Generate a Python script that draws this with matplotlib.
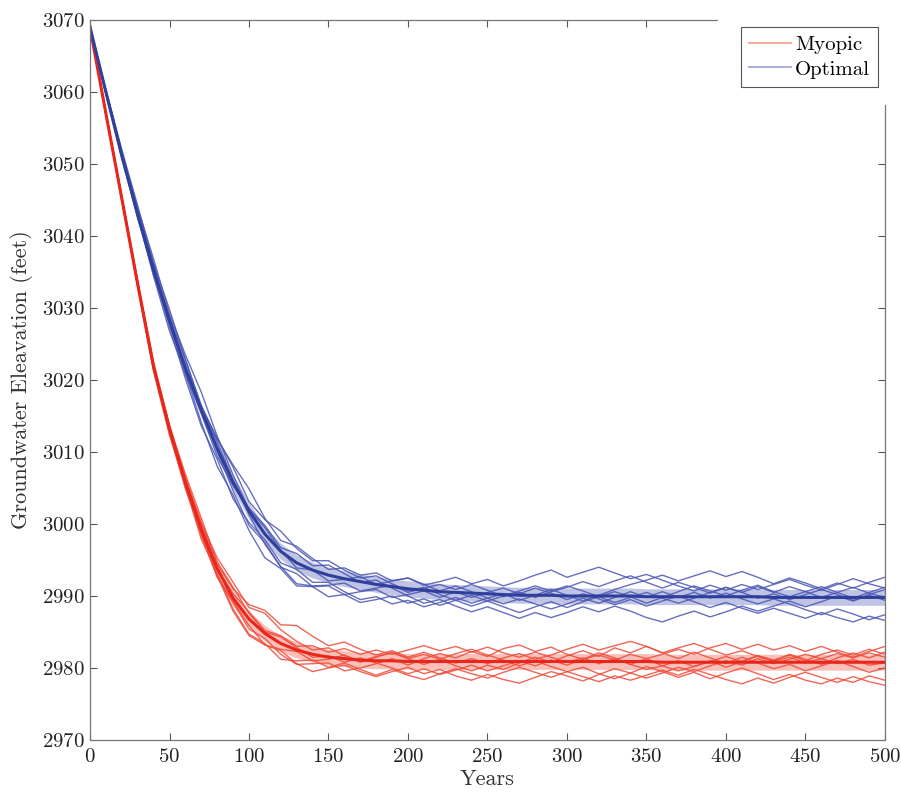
import numpy as np
import matplotlib
matplotlib.use("Agg")
import matplotlib.pyplot as plt
from matplotlib.lines import Line2D
from matplotlib.patches import Rectangle

plt.rcParams["font.family"] = ["cmr10", "DejaVu Serif"]
plt.rcParams["axes.formatter.use_mathtext"] = True

# --- data (feet), sampled every 10 years ---
years = np.arange(0, 501, 10)

myopic_mean = [3069.0, 3057.0, 3045.2, 3033.3, 3021.8, 3013.2, 3005.8, 2999.2, 2993.8, 2989.7,
               2986.8, 2984.8, 2983.4, 2982.5, 2981.9, 2981.5, 2981.3, 2981.1, 2981.0, 2981.0,
               2980.9, 2980.9, 2980.9, 2980.9, 2980.9, 2980.9, 2980.9, 2980.9, 2980.9, 2980.9,
               2980.9, 2980.9, 2980.9, 2980.9, 2980.9, 2980.9, 2980.8, 2980.8, 2980.8, 2980.8,
               2980.8, 2980.8, 2980.8, 2980.8, 2980.8, 2980.8, 2980.8, 2980.8, 2980.8, 2980.8, 2980.8]

optimal_mean = [3069.0, 3060.0, 3051.2, 3043.0, 3035.3, 3028.2, 3021.7, 3015.8, 3010.5, 3005.8,
                3001.8, 2998.6, 2996.2, 2994.6, 2993.6, 2992.9, 2992.4, 2992.0, 2991.6, 2991.3,
                2991.0, 2990.8, 2990.6, 2990.5, 2990.4, 2990.3, 2990.2, 2990.1, 2990.1, 2990.1,
                2990.0, 2990.0, 2990.0, 2990.0, 2990.0, 2989.9, 2989.9, 2989.9, 2989.9, 2989.9,
                2989.9, 2989.9, 2989.9, 2989.8, 2989.8, 2989.8, 2989.8, 2989.8, 2989.8, 2989.8, 2989.8]

band_half = [0.0, 0.3, 0.5, 0.6, 0.7, 0.8, 0.9, 1.0, 1.1, 1.1] + [1.1] * 41

# deviations of single runs from the mean
myopic_runs = [
    [0.0, 0.1, 0.2, 0.1, -0.2, -0.4, -0.3, -0.8, -1.2, -0.6,
     -1.4, -0.7, -1.5, -2.0, -1.3, -0.8, -1.7, -1.1, -0.4, 0.3,
     -0.5, 0.4, 1.1, 0.5, 1.4, 0.7, 1.8, 2.3, 1.4, 2.0,
     1.0, 0.3, 1.2, 0.5, -0.4, 0.4, -0.5, -1.2, -0.6, 0.2,
     -0.7, 0.1, 0.9, 0.2, 1.1, 0.4, -0.3, 0.6, 1.3, 0.6, 1.4],
    [0.0, -0.1, -0.2, 0.0, 0.3, 0.2, 0.6, 0.9, 1.5, 2.2,
     1.6, 2.8, 1.9, 1.2, 0.6, 1.3, 0.4, -0.3, 0.5, 1.2,
     0.4, -0.4, 0.3, -0.6, -1.3, -0.5, -1.1, -0.2, 0.6, -0.1,
     0.8, 1.5, 0.7, 1.9, 1.2, 2.1, 1.3, 0.5, 1.4, 0.6,
     -0.2, 0.7, -0.1, -0.9, -0.3, -1.2, -0.5, 0.2, -0.6, -1.4, -0.8],
    [0.0, 0.2, 0.1, -0.1, -0.3, -0.2, -0.7, -0.4, -1.0, -1.8,
     -2.3, -1.6, -1.0, -1.9, -2.4, -1.5, -0.9, -1.6, -2.2, -1.5,
     -0.8, -1.7, -1.1, -2.0, -2.6, -1.8, -2.5, -3.0, -2.2, -1.4,
     -2.0, -2.7, -1.8, -1.0, -1.6, -0.7, -1.3, -2.1, -1.4, -2.3,
     -1.5, -0.8, -1.6, -2.4, -1.7, -2.5, -3.0, -2.2, -2.8, -1.9, -2.5],
    [0.0, -0.1, 0.1, 0.3, 0.2, 0.5, 0.3, 1.0, 0.6, 1.3,
     2.0, 3.2, 2.6, 3.4, 2.5, 1.6, 2.3, 1.5, 0.8, 1.4,
     0.6, 1.3, 0.5, -0.2, 0.4, -0.3, 0.5, 1.1, 0.3, 0.9,
     1.7, 2.4, 1.6, 2.2, 2.8, 2.1, 1.3, 2.0, 2.6, 1.8,
     1.0, 1.6, 0.8, 0.1, 0.7, -0.1, 0.5, 1.2, 0.6, 1.3, 0.7],
    [0.0, 0.0, -0.2, -0.3, -0.1, -0.5, -0.9, -0.5, -1.1, -0.4,
     -0.9, -1.6, -0.8, -0.2, -0.9, -0.3, 0.5, -0.2, 0.6, 1.1,
     0.4, 1.0, 0.3, 1.1, 1.7, 0.9, 0.2, -0.6, 0.1, -0.7,
     -1.4, -0.8, -1.7, -2.4, -1.6, -2.3, -1.5, -0.7, -1.3, -0.5,
     0.2, -0.4, 0.5, -0.2, 0.4, 1.1, 0.5, -0.2, 0.4, -0.4, -0.1],
    [0.0, 0.1, 0.3, 0.4, 0.7, 0.4, 1.1, 1.6, 0.9, 1.5,
     0.8, 0.2, 0.9, 0.3, -0.4, 0.2, -0.5, 0.3, -0.3, -1.0,
     -1.7, -1.0, -1.8, -1.2, -0.5, -1.3, -0.6, 0.1, -0.6, 0.2,
     -0.5, 0.3, 0.9, 0.2, 1.0, 0.4, 1.1, 1.8, 1.1, 2.0,
     2.6, 1.8, 2.5, 1.7, 2.3, 1.5, 2.2, 1.4, 0.7, 1.5, 2.2],
    [0.0, -0.2, -0.1, -0.4, -0.6, -0.9, -0.6, -1.3, -0.7, -1.5,
     -2.1, -1.4, -2.2, -1.5, -0.8, -1.4, -0.6, -1.3, -2.0, -1.2,
     -1.9, -2.5, -1.7, -1.0, -1.7, -2.3, -1.5, -0.8, -1.5, -2.2,
     -1.4, -2.1, -2.8, -2.0, -2.6, -1.9, -1.1, -1.8, -1.0, -1.7,
     -2.4, -3.0, -2.2, -2.9, -2.1, -1.4, -2.1, -2.8, -2.0, -2.7, -3.2],
    [0.0, 0.1, 0.0, 0.2, 0.0, 0.3, 0.1, 0.5, 0.0, 0.6,
     1.0, 0.4, 1.1, 0.5, 1.2, 0.7, 1.4, 0.8, 1.5, 0.9,
     1.6, 2.2, 1.5, 2.1, 1.3, 2.0, 1.2, 0.6, 1.3, 0.6,
     -0.1, 0.5, -0.3, 0.4, -0.4, -1.1, -0.5, 0.2, -0.6, 0.1,
     0.8, 0.1, 0.9, 0.3, 1.0, 0.2, 1.1, 1.7, 1.0, 1.8, 1.1],
]

optimal_runs = [
    [0.0, 0.3, 0.8, 1.2, 0.9, 1.6, 1.1, 0.4, 1.3, 2.4,
     3.1, 2.2, 1.5, 2.3, 1.6, 0.8, 1.5, 0.9, 1.6, 0.8,
     1.5, 0.7, 1.4, 2.1, 1.3, 2.0, 1.2, 2.0, 2.8, 3.5,
     2.6, 3.3, 4.0, 3.2, 2.4, 3.1, 2.3, 1.5, 0.8, 1.6,
     0.9, 1.7, 1.0, 1.8, 2.5, 1.7, 1.0, 1.8, 2.6, 1.9, 1.3],
    [0.0, -0.2, -0.5, -0.3, -0.9, -1.4, -0.8, -1.7, -2.5, -1.8,
     -2.7, -3.3, -2.4, -3.2, -2.3, -1.5, -2.2, -1.4, -0.7, -1.5,
     -0.8, -0.1, -0.8, 0.1, -0.6, 0.2, 0.9, 0.2, 1.0, 0.3,
     -0.5, 0.3, -0.4, -1.2, -0.5, -1.3, -0.6, 0.1, -0.7, -1.5,
     -0.8, -1.6, -2.3, -1.5, -2.2, -2.9, -2.1, -2.8, -3.4, -2.6, -3.2],
    [0.0, 0.2, 0.5, 0.3, 0.8, 0.4, -0.3, 0.4, -0.4, -1.2,
     -2.0, -1.2, -2.1, -2.9, -2.2, -1.4, -0.6, -1.3, -0.5, 0.2,
     -0.5, 0.3, 1.0, 0.4, 1.2, 0.5, -0.3, 0.4, -0.3, 0.5,
     1.2, 2.0, 1.3, 2.1, 2.8, 2.0, 1.2, 2.0, 1.3, 0.5,
     1.3, 0.6, -0.2, 0.5, -0.3, 0.4, 1.1, 0.4, -0.4, 0.4, 1.1],
    [0.0, -0.1, 0.1, -0.3, -0.6, -0.2, -0.9, -0.4, -1.1, -0.5,
     0.4, 1.2, 0.5, 1.3, 0.6, 1.4, 0.7, -0.1, 0.6, -0.2,
     -1.0, -1.8, -1.1, -1.9, -2.6, -1.8, -2.5, -3.2, -2.4, -3.1,
     -2.3, -1.5, -2.2, -1.4, -2.1, -2.9, -3.5, -2.7, -2.0, -2.8,
     -2.1, -1.3, -2.0, -1.2, -0.5, -1.3, -0.6, 0.2, -0.5, 0.3, -0.4],
    [0.0, 0.1, 0.4, 0.9, 1.5, 1.0, 1.8, 2.5, 1.7, 1.0,
     0.2, 0.9, 0.1, -0.7, 0.0, -0.8, -0.1, 0.7, 0.0, 0.8,
     1.5, 0.8, 0.1, 0.9, 0.2, -0.6, 0.1, -0.7, 0.0, 0.8,
     0.1, -0.7, 0.1, 0.9, 1.6, 2.3, 3.0, 2.2, 2.9, 3.6,
     2.8, 3.5, 2.7, 1.9, 2.7, 2.0, 1.2, 2.0, 1.3, 2.1, 2.8],
    [0.0, -0.3, -0.1, -0.6, -0.2, -0.8, -1.5, -2.2, -1.5, -2.3,
     -1.6, -0.8, -1.6, -0.9, -1.7, -1.0, -1.8, -2.5, -1.7, -2.4,
     -1.6, -2.3, -1.5, -0.7, -1.4, -0.6, -1.3, -0.5, -1.2, -1.9,
     -1.1, -0.3, -1.0, -0.2, 0.6, -0.1, 0.7, -0.1, 0.6, -0.2,
     0.5, -0.3, -1.0, -0.2, -0.9, -1.7, -2.4, -1.6, -2.3, -3.1, -2.4],
    [0.0, 0.2, 0.0, 0.4, 0.1, 0.6, 1.2, 0.6, 1.4, 2.1,
     1.3, 2.0, 2.8, 2.0, 1.3, 2.0, 1.2, 0.5, 1.2, 0.4,
     -0.3, 0.4, -0.4, -1.1, -0.3, -1.0, -0.2, 0.6, 1.3, 0.6,
     1.4, 0.7, -0.1, 0.6, -0.1, -0.9, -0.1, 0.7, 1.5, 0.8,
     0.1, 0.9, 1.6, 0.8, 0.1, 0.8, 1.5, 0.7, 1.4, 0.6, 0.0],
    [0.0, -0.1, -0.3, -0.1, -0.4, 0.1, -0.5, 0.2, 0.9, 0.3,
     -0.5, -1.4, -2.2, -1.5, -2.3, -3.0, -2.2, -2.9, -2.1, -1.3,
     -2.0, -1.2, -1.9, -1.1, -1.8, -1.0, -1.7, -2.4, -1.6, -0.9,
     -1.6, -0.8, -0.1, -0.9, -0.2, 0.6, -0.2, -0.9, -0.2, 0.6,
     1.3, 0.6, 1.4, 0.7, 1.5, 0.8, 0.0, 0.7, -0.1, 0.7, 1.4],
]

red = "#e8261c"
red_thin = "#f04a38"
blue = "#2f3f9c"
blue_thin = "#4a56b3"

fig = plt.figure(figsize=(9.01, 7.95), dpi=100)
ax = fig.add_axes([0.0999, 0.0692, 0.8823, 0.9056])

groups = [(myopic_mean, myopic_runs, red, red_thin),
          (optimal_mean, optimal_runs, blue, blue_thin)]

for mean, runs, c, c_thin in groups:
    mean = np.array(mean)
    half = np.array(band_half)
    for dev in runs:
        ax.plot(years, mean + np.array(dev), color=c_thin, lw=1.0, alpha=0.85)
    ax.fill_between(years, mean - half, mean + half, color=c_thin, alpha=0.35, lw=0)
    ax.plot(years, mean, color=c, lw=2.2)

ax.set_xlim(0, 500)
ax.set_ylim(2970, 3070)
ax.set_xticks(np.arange(0, 501, 50))
ax.set_yticks(np.arange(2970, 3071, 10))
ax.tick_params(direction="in", top=True, right=True, length=5, width=0.8,
               labelsize=15, colors="#555555", labelcolor="#222222")
ax.tick_params(axis="x", pad=6)
ax.tick_params(axis="y", pad=4)
for s in ax.spines.values():
    s.set_color("#777777")
    s.set_linewidth(0.9)

ax.set_xlabel("Years", fontsize=16, color="#333333", labelpad=2)
ax.set_ylabel("Groundwater Eleavation (feet)", fontsize=16, color="#333333", labelpad=6)

# white block behind legend, hides the box corner like the original
fig.patches.append(Rectangle((0.797, 0.868), 0.203, 0.132, transform=fig.transFigure,
                             facecolor="white", edgecolor="none", zorder=5))

handles = [Line2D([], [], color="#f59a8a", lw=1.2),
           Line2D([], [], color="#9aa0d4", lw=1.2)]
leg = fig.legend(handles, ["Myopic", "Optimal"], loc="upper left",
                 bbox_to_anchor=(0.8224, 0.966), borderaxespad=0, fontsize=15,
                 fancybox=False, edgecolor="#555555", handlelength=2.0,
                 handletextpad=0.2, borderpad=0.4, labelspacing=0.3, framealpha=1)
leg.set_zorder(6)
leg.get_frame().set_linewidth(0.8)

fig.savefig("out.png", dpi=100)
